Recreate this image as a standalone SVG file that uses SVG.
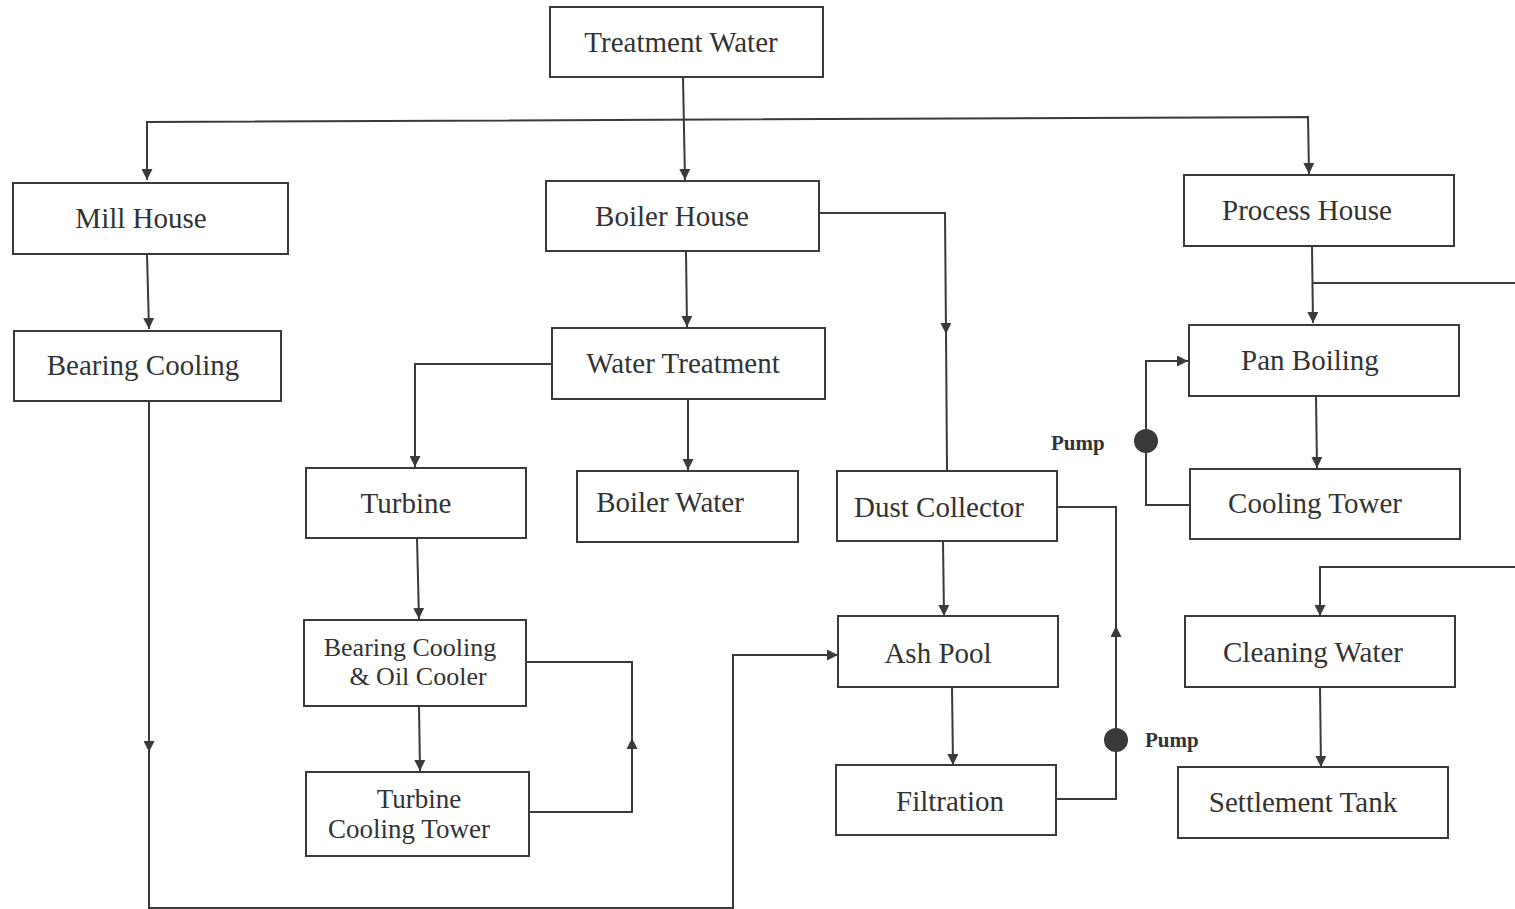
<svg xmlns="http://www.w3.org/2000/svg" width="1515" height="909" viewBox="0 0 1515 909">
<style>
.box{fill:#fff;stroke:#3a3a3a;stroke-width:2}
.t{font-family:"Liberation Serif",serif;font-size:29px;fill:#333;text-anchor:middle}
.c{fill:none;stroke:#3a3a3a;stroke-width:2}
.p{font-family:"Liberation Serif",serif;font-size:21px;font-weight:bold;fill:#333}
.pump{fill:#3a3a3a}
</style>
<defs>
<marker id="a" viewBox="0 0 10 10" refX="10" refY="5" markerWidth="11" markerHeight="11" markerUnits="userSpaceOnUse" orient="auto">
<path d="M0,0 L10,5 L0,10 z" fill="#3a3a3a"/>
</marker>
</defs>
<rect width="1515" height="909" fill="#fff"/>
<g id="connectors">
<path class="c" d="M683,77 L685,180" marker-end="url(#a)"/>
<path class="c" d="M147,180 L147,122 L1308,117 L1309,174" marker-end="url(#a)"/>
<path class="c" d="M147,122 L147,180" marker-end="url(#a)"/>
<path class="c" d="M147,254 L149,329" marker-end="url(#a)"/>
<path class="c" d="M149,401 L149,752" marker-end="url(#a)"/>
<path class="c" d="M149,745 L149,908 L733,908 L733,655 L838,655" marker-end="url(#a)"/>
<path class="c" d="M819,213 L945,213 L946,334" marker-end="url(#a)"/>
<path class="c" d="M946,330 L947,471"/>
<path class="c" d="M686,251 L687,327" marker-end="url(#a)"/>
<path class="c" d="M552,364 L415,364 L415,467" marker-end="url(#a)"/>
<path class="c" d="M688,399 L688,470" marker-end="url(#a)"/>
<path class="c" d="M417,538 L419,619" marker-end="url(#a)"/>
<path class="c" d="M419,706 L420,771" marker-end="url(#a)"/>
<path class="c" d="M529,812 L632,812 L632,738" marker-end="url(#a)"/>
<path class="c" d="M632,742 L632,662 L526,662"/>
<path class="c" d="M943,541 L944,616" marker-end="url(#a)"/>
<path class="c" d="M952,687 L953,765" marker-end="url(#a)"/>
<path class="c" d="M1056,799 L1116,799 L1116,626" marker-end="url(#a)"/>
<path class="c" d="M1116,630 L1116,507 L1057,507"/>
<path class="c" d="M1312,246 L1313,323" marker-end="url(#a)"/>
<path class="c" d="M1312,283 L1515,283"/>
<path class="c" d="M1316,396 L1317,468" marker-end="url(#a)"/>
<path class="c" d="M1190,505 L1146,505 L1146,361 L1188,361" marker-end="url(#a)"/>
<path class="c" d="M1515,567 L1320,567 L1320,616" marker-end="url(#a)"/>
<path class="c" d="M1320,687 L1321,767" marker-end="url(#a)"/>
<circle class="pump" cx="1146" cy="441" r="12"/>
<circle class="pump" cx="1116" cy="740" r="12"/>
<text class="p" x="1051" y="450">Pump</text>
<text class="p" x="1145" y="747">Pump</text>
</g>
<g id="treatment-water"><rect class="box" x="550" y="7" width="273" height="70"/><text class="t" x="681" y="52">Treatment Water</text></g>
<g id="mill-house"><rect class="box" x="13" y="183" width="275" height="71"/><text class="t" x="141" y="228">Mill House</text></g>
<g id="boiler-house"><rect class="box" x="546" y="181" width="273" height="70"/><text class="t" x="672" y="226">Boiler House</text></g>
<g id="process-house"><rect class="box" x="1184" y="175" width="270" height="71"/><text class="t" x="1307" y="220">Process House</text></g>
<g id="bearing-cooling"><rect class="box" x="14" y="331" width="267" height="70"/><text class="t" x="143" y="375">Bearing Cooling</text></g>
<g id="water-treatment"><rect class="box" x="552" y="328" width="273" height="71"/><text class="t" x="683" y="373">Water Treatment</text></g>
<g id="pan-boiling"><rect class="box" x="1189" y="325" width="270" height="71"/><text class="t" x="1310" y="370">Pan Boiling</text></g>
<g id="turbine"><rect class="box" x="306" y="468" width="220" height="70"/><text class="t" x="406" y="513">Turbine</text></g>
<g id="boiler-water"><rect class="box" x="577" y="471" width="221" height="71"/><text class="t" x="670" y="512">Boiler Water</text></g>
<g id="dust-collector"><rect class="box" x="837" y="471" width="220" height="70"/><text class="t" x="939" y="517">Dust Collector</text></g>
<g id="cooling-tower"><rect class="box" x="1190" y="469" width="270" height="70"/><text class="t" x="1315" y="513">Cooling Tower</text></g>
<g id="bearing-cooling-oil-cooler"><rect class="box" x="304" y="620" width="222" height="86"/><text class="t" x="410" y="656" style="font-size:26px">Bearing Cooling</text><text class="t" x="418" y="685" style="font-size:26px">&amp; Oil Cooler</text></g>
<g id="ash-pool"><rect class="box" x="838" y="616" width="220" height="71"/><text class="t" x="938" y="663">Ash Pool</text></g>
<g id="cleaning-water"><rect class="box" x="1185" y="616" width="270" height="71"/><text class="t" x="1313" y="662">Cleaning Water</text></g>
<g id="turbine-cooling-tower"><rect class="box" x="306" y="772" width="223" height="84"/><text class="t" x="419" y="808" style="font-size:27px">Turbine</text><text class="t" x="409" y="838" style="font-size:27px">Cooling Tower</text></g>
<g id="filtration"><rect class="box" x="836" y="765" width="220" height="70"/><text class="t" x="950" y="811">Filtration</text></g>
<g id="settlement-tank"><rect class="box" x="1178" y="767" width="270" height="71"/><text class="t" x="1303" y="812">Settlement Tank</text></g>
</svg>
